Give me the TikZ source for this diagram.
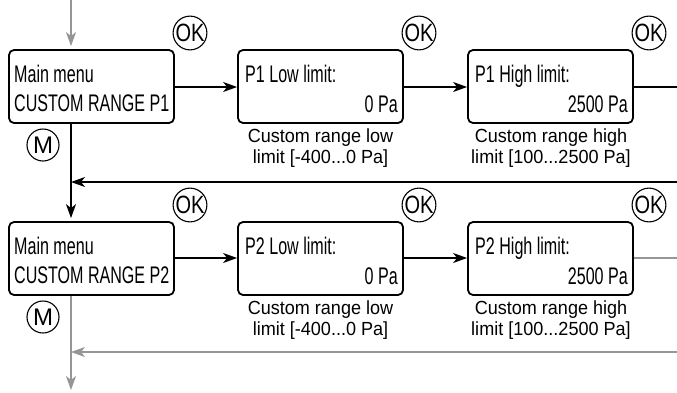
\documentclass[tikz,border=0pt]{standalone}
\usepackage{fontspec}
\setmainfont{Liberation Sans}
\newfontfamily\boxfont[FakeStretch=0.67]{Liberation Sans}
\newfontfamily\notefont[FakeStretch=0.95]{Liberation Sans}
\newfontfamily\btnfont[FakeStretch=0.8]{Liberation Sans}
\usetikzlibrary{arrows.meta,calc}
\definecolor{mygray}{RGB}{150,150,150}
\tikzset{
  screen/.style={draw, line width=1.8pt, rounded corners=5pt, minimum width=165pt, minimum height=73pt, inner sep=0pt},
  boxtxt/.style={inner sep=0pt, font=\boxfont\fontsize{24}{28}\selectfont},
  notetxt/.style={inner sep=0pt, align=center, font=\notefont\fontsize{19}{21}\selectfont},
  btn/.style={draw, circle, line width=1.1pt, minimum size=32pt, inner sep=0pt, font=\btnfont\fontsize{25}{28}\selectfont},
  conn/.style={line width=1.2pt, -{Stealth[length=14pt,width=10pt,inset=4pt]}},
  gconn/.style={conn, draw=mygray, -{Stealth[length=14pt,width=10pt,inset=4pt,fill=mygray]}},
  plain/.style={line width=1.2pt},
}
\begin{document}
\begin{tikzpicture}[x=1pt,y=-1pt]
\useasboundingbox (0,0) rectangle (677,392);
% row 1 boxes
\node[screen] (a1) at (91.5,86.5) {};
\node[screen] (b1) at (320.5,86.5) {};
\node[screen] (c1) at (550.5,86.5) {};
\node[boxtxt, anchor=base west] (a1t) at (14,82) {Main menu};
\node[boxtxt, anchor=base west] (a1u) at (14,111) {CUSTOM RANGE P1};
\node[boxtxt, anchor=base west] (b1t) at (245,82) {P1 Low limit:};
\node[boxtxt, anchor=base east] (b1u) at (398,112) {0 Pa};
\node[boxtxt, anchor=base west] (c1t) at (475,82) {P1 High limit:};
\node[boxtxt, anchor=base east] (c1u) at (628,112) {2500 Pa};
\node[notetxt, anchor=north] (b1n) at (320.5,129) {Custom range low\\limit [-400...0 Pa]};
\node[notetxt, anchor=north] (c1n) at (551,129) {Custom range high\\limit [100...2500 Pa]};
\node[btn] (ok1a) at (190,33) {OK};
\node[btn] (ok1b) at (419,33) {OK};
\node[btn] (ok1c) at (649,33) {OK};
\node[btn, font=\fontsize{24}{28}\selectfont] (m1) at (43,145) {M};
% row 2 boxes
\node[screen] (a2) at (91.5,258.5) {};
\node[screen] (b2) at (320.5,258.5) {};
\node[screen] (c2) at (550.5,258.5) {};
\node[boxtxt, anchor=base west] (a2t) at (14,254) {Main menu};
\node[boxtxt, anchor=base west] (a2u) at (14,283) {CUSTOM RANGE P2};
\node[boxtxt, anchor=base west] (b2t) at (245,254) {P2 Low limit:};
\node[boxtxt, anchor=base east] (b2u) at (398,284) {0 Pa};
\node[boxtxt, anchor=base west] (c2t) at (475,254) {P2 High limit:};
\node[boxtxt, anchor=base east] (c2u) at (628,284) {2500 Pa};
\node[notetxt, anchor=north] (b2n) at (320.5,301) {Custom range low\\limit [-400...0 Pa]};
\node[notetxt, anchor=north] (c2n) at (551,301) {Custom range high\\limit [100...2500 Pa]};
\node[btn] (ok2a) at (190,205) {OK};
\node[btn] (ok2b) at (419,205) {OK};
\node[btn] (ok2c) at (649,205) {OK};
\node[btn, font=\fontsize{24}{28}\selectfont] (m2) at (43,317) {M};
% coordinates
\coordinate (top) at (71,0);
\coordinate (r1) at (677,182);
\coordinate (j1) at (71,182);
\coordinate (e1) at (677,87);
\coordinate (r2) at (677,352);
\coordinate (j2) at (71,352);
\coordinate (e2) at (677,258);
\coordinate (bot) at (71,392);
% connectors row 1
\draw[gconn, shorten >=3pt] (top) -- (top |- a1.north);
\draw[conn] (a1.east |- 0,87) -- (b1.west |- 0,87);
\draw[conn] (b1.east |- 0,87) -- (c1.west |- 0,87);
\draw[plain] (c1.east |- e1) -- (e1);
\draw[conn] (r1) -- (j1);
\draw[conn, shorten >=3pt] (j1 |- a1.south) -- (j1 |- a2.north);
% connectors row 2
\draw[conn] (a2.east |- 0,258) -- (b2.west |- 0,258);
\draw[conn] (b2.east |- 0,258) -- (c2.west |- 0,258);
\draw[plain, draw=mygray] (c2.east |- e2) -- (e2);
\draw[gconn] (r2) -- (j2);
\draw[gconn, shorten >=2pt] (j2 |- a2.south) -- (bot);
\end{tikzpicture}
\end{document}
